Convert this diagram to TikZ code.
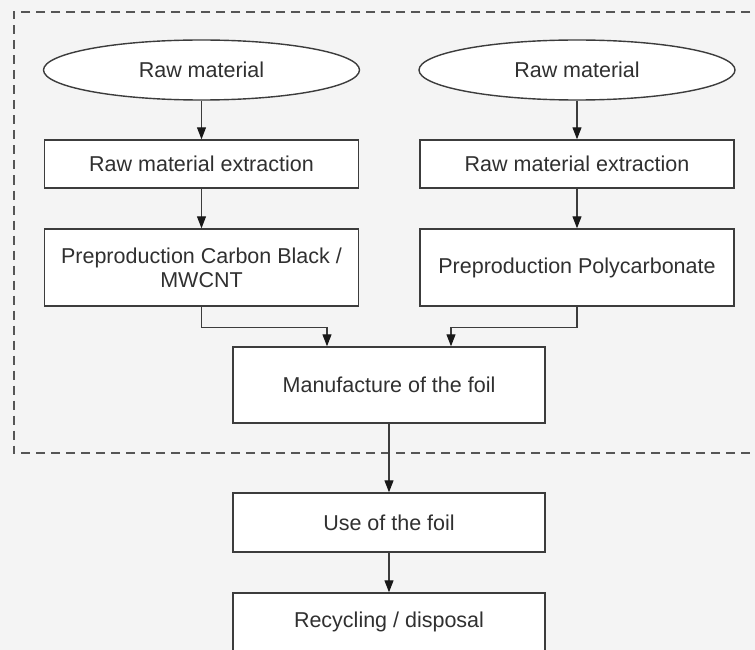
\documentclass[tikz,border=0pt]{standalone}
\usepackage{fontspec}
\setmainfont{Liberation Sans}
\usetikzlibrary{shapes.geometric,arrows.meta}
\definecolor{bg}{HTML}{F4F4F4}
\definecolor{ln}{HTML}{3C3C3C}
\definecolor{tx}{HTML}{303030}
\definecolor{dsh}{HTML}{555555}
\begin{document}
\begin{tikzpicture}[x=1pt,y=-1pt,
  txt/.style={text=tx, font=\fontsize{21.5}{24}\selectfont, align=center, inner sep=0pt},
  box/.style={txt, draw=ln, line width=1.4pt, fill=white, minimum width=314pt},
  oval/.style={txt, ellipse, draw=ln, line width=1.4pt, fill=white, minimum width=316pt, minimum height=60pt},
  arr/.style={draw=ln, line width=1.1pt, -{Triangle[length=12pt,width=9pt,color=black!90]}}]
\useasboundingbox (0,0) rectangle (755,650);
\clip (0,0) rectangle (755,650);
\fill[bg] (0,0) rectangle (755,650);
\draw[dsh, line width=2pt, dash pattern=on 9pt off 6pt] (780,12) -- (13.5,12) -- (13.5,453) -- (780,453);
\node[oval] (rawL) at (201.5,70) {Raw material};
\node[oval] (rawR) at (577,70) {Raw material};
\node[box, minimum height=48pt] (extL) at (201.5,164) {Raw material extraction};
\node[box, minimum height=48pt] (extR) at (577,164) {Raw material extraction};
\node[box, minimum height=77pt] (preL) at (201.5,267.5) {Preproduction Carbon Black /\\MWCNT};
\node[box, minimum height=77pt] (preR) at (577,267.5) {Preproduction Polycarbonate};
\node[box, minimum width=312pt, minimum height=76pt] (man) at (389,385) {Manufacture of the foil};
\node[box, minimum width=312pt, minimum height=59pt] (use) at (389,522.5) {Use of the foil};
\node[box, minimum width=312pt, minimum height=58pt] (rec) at (389,622) {Recycling / disposal};
\draw[arr] (rawL.south) -- (extL.north);
\draw[arr] (rawR.south) -- (extR.north);
\draw[arr] (extL.south) -- (preL.north);
\draw[arr] (extR.south) -- (preR.north);
\draw[arr] (preL.south) -- ++(0,21) -| ([xshift=-62pt]man.north);
\draw[arr] (preR.south) -- ++(0,21) -| ([xshift=62pt]man.north);
\draw[arr] (man.south) -- (use.north);
\draw[arr] (use.south) -- (rec.north);
\end{tikzpicture}
\end{document}
